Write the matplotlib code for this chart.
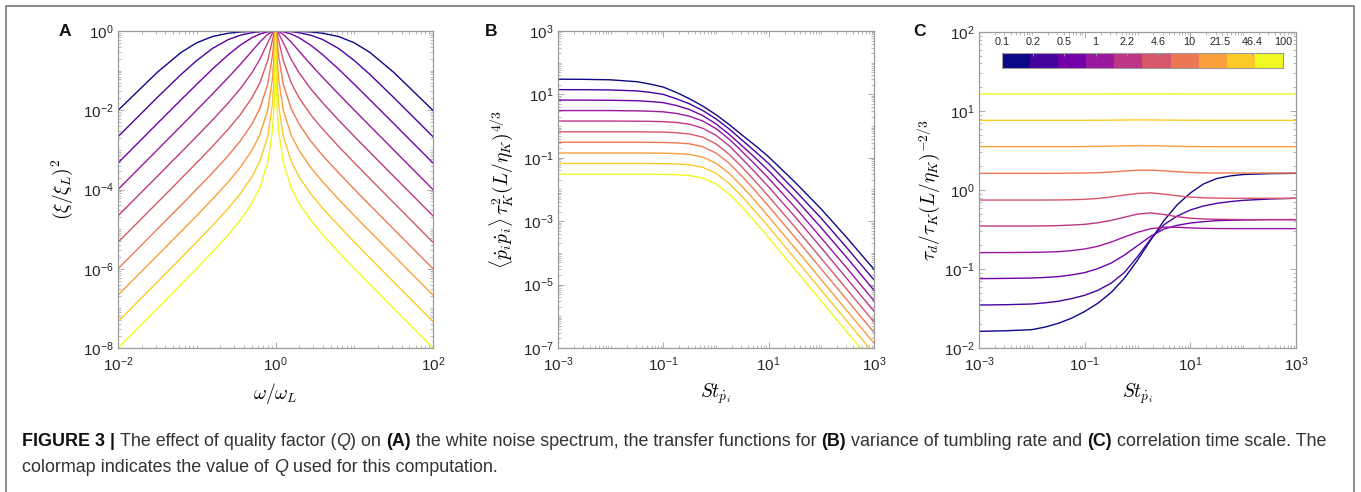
import numpy as np
import matplotlib
matplotlib.use("Agg")
import matplotlib.pyplot as plt
from matplotlib.colors import ListedColormap
from matplotlib.lines import Line2D
from matplotlib.ticker import LogLocator, NullFormatter

# Figure geometry (pixels)
FIG_W, FIG_H = 1361, 492
DPI = 100
AXES_PX = {  # left, top, right, bottom
    "A": (118, 31, 433, 348),
    "B": (558, 31, 874, 348),
    "C": (979, 32, 1296, 348),
}
CBAR_PX = (1002, 53, 1283, 68)
CAPTION_WIDTH_PX = 1308
SPINE_COLOR = "#9c9c9c"
TEXT_COLOR = "#262626"

# Quality factor values shown on the colorbar
Q_LABELS = ["0.1", "0.2", "0.5", "1", "2.2", "4.6", "10", "21.5", "46.4", "100"]

# Panel A: spectrum, left half (curves are mirror images about 1)
OMEGA_EXP_LEFT = [-2, -1.5, -1.2, -1, -0.8, -0.6, -0.45, -0.3, -0.2, -0.1, -0.04, -0.02, -0.01, 0]
SPECTRUM_LEFT = [
    [0.0099, 0.091, 0.287, 0.505, 0.726, 0.878, 0.943, 0.978, 0.991, 0.998, 1.0, 1.0, 1.0, 1.0],
    [2.15e-3, 0.0211, 0.0797, 0.180, 0.363, 0.608, 0.780, 0.906, 0.960, 0.990, 0.998, 1.0, 1.0, 1.0],
    [4.65e-4, 4.64e-3, 0.0183, 0.0453, 0.110, 0.251, 0.434, 0.676, 0.836, 0.956, 0.993, 0.998, 1.0, 1.0],
    [1.0e-4, 1.0e-3, 4.0e-3, 0.0101, 0.0258, 0.0671, 0.141, 0.309, 0.524, 0.822, 0.967, 0.992, 0.998, 1.0],
    [2.16e-5, 2.16e-4, 8.65e-4, 2.19e-3, 5.67e-3, 0.0153, 0.0343, 0.088, 0.191, 0.499, 0.864, 0.962, 0.990, 1.0],
    [4.65e-6, 4.66e-5, 1.87e-4, 4.74e-4, 1.23e-3, 3.33e-3, 7.6e-3, 0.0204, 0.0486, 0.177, 0.578, 0.846, 0.956, 1.0],
    [1.0e-6, 1.0e-5, 4.0e-5, 1.02e-4, 2.64e-4, 7.18e-4, 1.64e-3, 4.46e-3, 0.0109, 0.0442, 0.227, 0.541, 0.825, 1.0],
    [2.16e-7, 2.16e-6, 8.66e-6, 2.2e-5, 5.7e-5, 1.55e-4, 3.55e-4, 9.64e-4, 2.36e-3, 9.86e-3, 0.0596, 0.202, 0.504, 1.0],
    [4.64e-8, 4.65e-7, 1.86e-6, 4.74e-6, 1.23e-5, 3.34e-5, 7.65e-5, 2.08e-4, 5.1e-4, 2.14e-3, 0.0135, 0.0518, 0.179, 1.0],
    [1.0e-8, 1.0e-7, 4.0e-7, 1.02e-6, 2.65e-6, 7.19e-6, 1.65e-5, 4.48e-5, 1.1e-4, 4.62e-4, 2.93e-3, 0.0116, 0.0449, 1.0],
]

# Panel B: variance of tumbling rate (log10 of the value)
ST_EXP_B = [-3, -2.5, -2, -1.5, -1.25, -1, -0.75, -0.5, -0.25, 0, 0.25, 0.5, 0.75, 1, 1.5, 2, 2.5, 3]
TUMBLING_LOG10 = [
    [1.48, 1.475, 1.46, 1.40, 1.325, 1.23, 1.06, 0.86, 0.63, 0.36, 0.05, -0.29, -0.62, -0.97, -1.77, -2.62, -3.55, -4.52],
    [1.15, 1.147, 1.14, 1.11, 1.065, 1.00, 0.86, 0.70, 0.49, 0.23, -0.09, -0.45, -0.81, -1.18, -2.03, -2.91, -3.87, -4.85],
    [0.82, 0.819, 0.815, 0.80, 0.775, 0.74, 0.65, 0.52, 0.33, 0.07, -0.26, -0.63, -1.01, -1.41, -2.28, -3.21, -4.18, -5.18],
    [0.49, 0.49, 0.49, 0.48, 0.47, 0.45, 0.40, 0.31, 0.16, -0.08, -0.41, -0.81, -1.22, -1.65, -2.56, -3.53, -4.51, -5.51],
    [0.16, 0.16, 0.16, 0.155, 0.15, 0.14, 0.115, 0.06, -0.07, -0.29, -0.62, -1.04, -1.47, -1.92, -2.86, -3.84, -4.84, -5.84],
    [-0.18, -0.18, -0.18, -0.18, -0.185, -0.19, -0.21, -0.25, -0.35, -0.56, -0.89, -1.30, -1.75, -2.22, -3.19, -4.18, -5.18, -6.18],
    [-0.51, -0.51, -0.51, -0.51, -0.513, -0.516, -0.53, -0.56, -0.65, -0.85, -1.17, -1.59, -2.05, -2.53, -3.51, -4.51, -5.51, -6.51],
    [-0.85, -0.85, -0.85, -0.85, -0.852, -0.855, -0.867, -0.895, -0.98, -1.17, -1.49, -1.91, -2.37, -2.86, -3.85, -4.85, -5.85, -6.85],
    [-1.18, -1.18, -1.18, -1.18, -1.182, -1.184, -1.195, -1.22, -1.30, -1.49, -1.81, -2.23, -2.70, -3.18, -4.18, -5.18, -6.18, -7.18],
    [-1.52, -1.52, -1.52, -1.52, -1.521, -1.524, -1.534, -1.56, -1.64, -1.82, -2.14, -2.56, -3.03, -3.52, -4.52, -5.52, -6.52, -7.52],
]

# Panel C: correlation time scale (log10 of the value)
ST_EXP_C = [-3, -2.5, -2, -1.75, -1.5, -1.25, -1, -0.75, -0.5, -0.25, 0, 0.25, 0.5, 0.75, 1, 1.25, 1.5, 1.75, 2, 2.5, 3]
CORR_TIME_LOG10 = [
    [-1.789, -1.782, -1.768, -1.735, -1.688, -1.623, -1.538, -1.433, -1.298, -1.118, -0.888, -0.633, -0.388, -0.188, -0.038, 0.077, 0.145, 0.178, 0.196, 0.207, 0.211],
    [-1.456, -1.452, -1.443, -1.428, -1.409, -1.375, -1.333, -1.270, -1.180, -1.045, -0.845, -0.620, -0.440, -0.330, -0.253, -0.202, -0.169, -0.147, -0.131, -0.114, -0.105],
    [-1.122, -1.119, -1.114, -1.107, -1.097, -1.075, -1.046, -0.995, -0.925, -0.825, -0.705, -0.585, -0.495, -0.447, -0.418, -0.401, -0.388, -0.383, -0.380, -0.375, -0.375],
    [-0.793, -0.792, -0.789, -0.786, -0.781, -0.767, -0.747, -0.712, -0.660, -0.595, -0.535, -0.490, -0.470, -0.472, -0.480, -0.485, -0.488, -0.489, -0.489, -0.489, -0.489],
    [-0.456, -0.456, -0.456, -0.454, -0.451, -0.444, -0.435, -0.415, -0.385, -0.345, -0.305, -0.290, -0.310, -0.338, -0.357, -0.366, -0.371, -0.373, -0.375, -0.375, -0.375],
    [-0.127, -0.127, -0.127, -0.127, -0.126, -0.123, -0.118, -0.107, -0.088, -0.064, -0.044, -0.036, -0.052, -0.073, -0.090, -0.099, -0.103, -0.105, -0.105, -0.105, -0.105],
    [0.211, 0.211, 0.211, 0.211, 0.212, 0.213, 0.215, 0.219, 0.228, 0.240, 0.250, 0.252, 0.243, 0.231, 0.222, 0.217, 0.215, 0.215, 0.215, 0.215, 0.215],
    [0.549, 0.549, 0.549, 0.549, 0.549, 0.549, 0.550, 0.552, 0.555, 0.559, 0.562, 0.561, 0.557, 0.553, 0.550, 0.549, 0.548, 0.548, 0.548, 0.548, 0.548],
    [0.882, 0.882, 0.882, 0.882, 0.882, 0.882, 0.882, 0.883, 0.884, 0.886, 0.887, 0.887, 0.885, 0.884, 0.883, 0.882, 0.882, 0.882, 0.882, 0.882, 0.882],
    [1.215, 1.215, 1.215, 1.215, 1.215, 1.215, 1.215, 1.215, 1.215, 1.216, 1.216, 1.216, 1.216, 1.215, 1.215, 1.215, 1.215, 1.215, 1.215, 1.215, 1.215],
]

CAPTION_LINES = [
    [("FIGURE 3 | ", "bold", "normal"),
     ("The effect of quality factor (", "normal", "normal"),
     ("Q", "normal", "italic"),
     (") on ", "normal", "normal"),
     ("(A)", "bold", "normal"),
     (" the white noise spectrum, the transfer functions for ", "normal", "normal"),
     ("(B)", "bold", "normal"),
     (" variance of tumbling rate and ", "normal", "normal"),
     ("(C)", "bold", "normal"),
     (" correlation time scale. The", "normal", "normal")],
    [("colormap indicates the value of ", "normal", "normal"),
     ("Q", "normal", "italic"),
     (" used for this computation.", "normal", "normal")],
]

plt.rcParams["font.family"] = ["Liberation Sans", "DejaVu Sans"]
plt.rcParams["mathtext.fontset"] = "cm"
plt.rcParams["axes.unicode_minus"] = False


def px_rect(box):
    """Pixel box (left, top, right, bottom) -> figure fraction rect."""
    l, t, r, b = box
    return [l / FIG_W, 1 - b / FIG_H, (r - l) / FIG_W, (b - t) / FIG_H]


def style_axes(ax, xlim, ylim, xticks, yticks):
    ax.set_xscale("log")
    ax.set_yscale("log")
    ax.set_xlim(*xlim)
    ax.set_ylim(*ylim)
    ax.set_xticks(xticks)
    ax.set_yticks(yticks)
    for axis in (ax.xaxis, ax.yaxis):
        axis.set_minor_locator(LogLocator(base=10, subs=np.arange(1, 10), numticks=60))
        axis.set_minor_formatter(NullFormatter())
    ax.tick_params(which="both", direction="in", top=True, right=True,
                   color=SPINE_COLOR, labelcolor=TEXT_COLOR, labelsize=11)
    ax.tick_params(which="major", length=4, width=0.6)
    ax.tick_params(which="minor", length=2, width=0.5)
    ax.tick_params(axis="x", pad=5)
    ax.tick_params(axis="y", pad=3)
    for sp in ax.spines.values():
        sp.set_color(SPINE_COLOR)
        sp.set_linewidth(0.9)


def text_width(fig, renderer, text, size, weight, style):
    """Width in pixels, spaces included (measured against a sentinel bar)."""
    t1 = fig.text(0, 0, text + "|", fontsize=size, fontweight=weight, fontstyle=style)
    t2 = fig.text(0, 0, "|", fontsize=size, fontweight=weight, fontstyle=style)
    w = t1.get_window_extent(renderer).width - t2.get_window_extent(renderer).width
    t1.remove()
    t2.remove()
    return w


def draw_caption(fig):
    renderer = fig.canvas.get_renderer()
    # pick the font size so that the first line spans the same width as in the figure
    base = 10.0
    w = sum(text_width(fig, renderer, t, base, wt, st) for t, wt, st in CAPTION_LINES[0])
    size = base * CAPTION_WIDTH_PX / w
    for line, y_px in zip(CAPTION_LINES, [442, 468]):
        x = 22
        for text, weight, style in line:
            color = "#111111" if weight == "bold" else "#333333"
            fig.text(x / FIG_W, 1 - y_px / FIG_H, text, fontsize=size, fontweight=weight,
                     fontstyle=style, color=color, ha="left", va="center")
            x += text_width(fig, renderer, text, size, weight, style)


def main():
    fig = plt.figure(figsize=(FIG_W / DPI, FIG_H / DPI), dpi=DPI)
    colors = plt.get_cmap("plasma")(np.linspace(0, 1, len(Q_LABELS)))

    # Panel A
    ax = fig.add_axes(px_rect(AXES_PX["A"]))
    left = np.array(OMEGA_EXP_LEFT)
    omega = 10.0 ** np.concatenate([left, -left[-2::-1]])
    for vals, c in zip(SPECTRUM_LEFT, colors):
        v = np.array(vals)
        ax.plot(omega, np.concatenate([v, v[-2::-1]]), color=c, lw=1.0)
    style_axes(ax, (1e-2, 1e2), (1e-8, 1), [1e-2, 1, 1e2], [1e-8, 1e-6, 1e-4, 1e-2, 1])
    ax.set_xlabel(r"$\omega/\omega_L$", fontsize=14)
    ax.set_ylabel(r"$(\xi/\xi_L)^2$", fontsize=14)
    ax.xaxis.set_label_coords(0.5, -0.105)
    ax.yaxis.set_label_coords(-0.137, 0.5)

    # Panel B
    ax = fig.add_axes(px_rect(AXES_PX["B"]))
    st = 10.0 ** np.array(ST_EXP_B)
    for vals, c in zip(TUMBLING_LOG10, colors):
        ax.plot(st, 10.0 ** np.array(vals), color=c, lw=1.0)
    style_axes(ax, (1e-3, 1e3), (1e-7, 1e3), [1e-3, 1e-1, 1e1, 1e3],
               [1e-7, 1e-5, 1e-3, 1e-1, 1e1, 1e3])
    ax.set_xlabel(r"$St_{\dot{p}_i}$", fontsize=14)
    ax.set_ylabel(r"$\langle \dot{p}_i\dot{p}_i \rangle\,\tau_K^2(L/\eta_K)^{4/3}$", fontsize=14)
    ax.xaxis.set_label_coords(0.5, -0.105)
    ax.yaxis.set_label_coords(-0.136, 0.5)

    # Panel C
    ax = fig.add_axes(px_rect(AXES_PX["C"]))
    st = 10.0 ** np.array(ST_EXP_C)
    for vals, c in zip(CORR_TIME_LOG10, colors):
        ax.plot(st, 10.0 ** np.array(vals), color=c, lw=1.0)
    style_axes(ax, (1e-3, 1e3), (1e-2, 1e2), [1e-3, 1e-1, 1e1, 1e3],
               [1e-2, 1e-1, 1, 1e1, 1e2])
    ax.set_xlabel(r"$St_{\dot{p}_i}$", fontsize=14)
    ax.set_ylabel(r"$\tau_d/\tau_K(L/\eta_K)^{-2/3}$", fontsize=14)
    ax.xaxis.set_label_coords(0.5, -0.105)
    ax.yaxis.set_label_coords(-0.117, 0.5)

    # Discrete colorbar inside panel C
    cax = fig.add_axes(px_rect(CBAR_PX))
    n = len(Q_LABELS)
    cax.imshow(np.arange(n)[None, :], cmap=ListedColormap(colors), aspect="auto",
               extent=[0, n, 0, 1], interpolation="nearest")
    cax.set_xlim(0, n)
    cax.set_xticks(np.linspace(0, n, n))
    cax.set_xticklabels(Q_LABELS)
    cax.set_yticks([])
    cax.tick_params(axis="x", direction="in", top=True, bottom=False, labeltop=True,
                    labelbottom=False, length=2.5, width=0.6, color=SPINE_COLOR,
                    labelsize=7.8, labelcolor=TEXT_COLOR, pad=4)
    for sp in cax.spines.values():
        sp.set_color(SPINE_COLOR)
        sp.set_linewidth(0.8)

    # Panel letters
    for letter, x_px in zip("ABC", [65, 491, 920]):
        fig.text(x_px / FIG_W, 1 - 32 / FIG_H, letter, fontsize=12.5, fontweight="bold",
                 ha="center", va="center", color="#111111")

    # Outer frame (open at the bottom edge of the picture)
    fx = [6 / FIG_W, 6 / FIG_W, 1354 / FIG_W, 1354 / FIG_W]
    fy = [0, 1 - 6 / FIG_H, 1 - 6 / FIG_H, 0]
    fig.add_artist(Line2D(fx, fy, transform=fig.transFigure, color="#8a8a8a", lw=1.4))

    draw_caption(fig)
    fig.savefig("out.png", dpi=DPI, facecolor="white")


if __name__ == "__main__":
    main()
